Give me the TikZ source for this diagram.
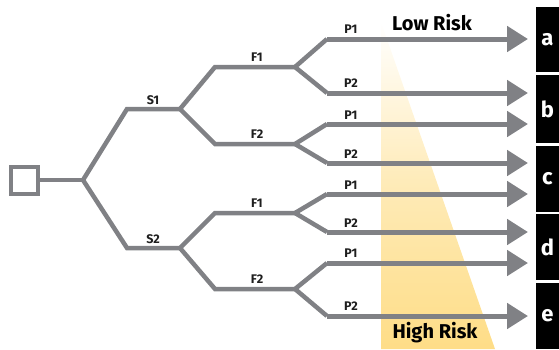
\documentclass[tikz,border=0pt]{standalone}
\usepackage{fontspec}
\setmainfont{Fira Sans}
\usetikzlibrary{arrows.meta}
\definecolor{treegray}{RGB}{128,129,133}
\definecolor{riskyellow}{RGB}{254,221,135}
\definecolor{labeltxt}{RGB}{30,30,30}
\tikzset{
  branch/.style={draw=treegray,line width=4.5pt},
  outarrow/.style={draw=treegray,line width=5pt,-{Triangle[length=21pt,width=25pt]}},
  lbl/.style={font=\fontsize{12.5}{13}\selectfont\bfseries,text=labeltxt,inner sep=0pt},
  risk/.style={font=\fontsize{20}{22}\selectfont\bfseries,text=black,inner sep=0pt},
  outbox/.style={fill=black,inner sep=0pt,minimum width=23pt,text=white,font=\fontsize{22}{24}\selectfont\bfseries},
  rootbox/.style={draw=treegray,line width=4pt,minimum size=27pt,inner sep=0pt}
}
\begin{document}
\begin{tikzpicture}[x=1pt,y=-1pt]
\useasboundingbox (0,0) rectangle (559,349);
% risk gradient wedge
\shade[top color=white,bottom color=riskyellow,middle color=riskyellow!60]
  (381,22) -- (381,349) -- (495,349) -- cycle;
% root
\node[rootbox] (root) at (24,180) {};
\coordinate (j0) at (83,180);
\coordinate (s1a) at (127,109); \coordinate (s1) at (180,109);
\coordinate (s2a) at (127,248); \coordinate (s2) at (180,248);
\coordinate (f11a) at (215,67);  \coordinate (f11) at (295,67);
\coordinate (f12a) at (215,144); \coordinate (f12) at (295,144);
\coordinate (f21a) at (215,213); \coordinate (f21) at (295,213);
\coordinate (f22a) at (215,289); \coordinate (f22) at (295,289);
\foreach \n/\y in {1/39,2/93,3/124,4/163,5/194,6/232,7/263,8/316}{
  \coordinate (p\n) at (327,\y);
  \coordinate (t\n) at (528,\y);
}
% tree
\draw[branch] (root.east) -- (j0);
\draw[branch] (s1) -- (s1a) -- (j0) -- (s2a) -- (s2);
\draw[branch] (f11) -- (f11a) -- (s1) -- (f12a) -- (f12);
\draw[branch] (f21) -- (f21a) -- (s2) -- (f22a) -- (f22);
\draw[branch] (p1) -- (f11) -- (p2);
\draw[branch] (p3) -- (f12) -- (p4);
\draw[branch] (p5) -- (f21) -- (p6);
\draw[branch] (p7) -- (f22) -- (p8);
\foreach \n in {1,...,8}{\draw[outarrow] (p\n) -- (t\n);}
% labels
\node[lbl] (ls1) at (153,100) {S1};
\node[lbl] (ls2) at (153,239) {S2};
\node[lbl] (lf11) at (257,57) {F1};
\node[lbl] (lf12) at (257,134) {F2};
\node[lbl] (lf21) at (257,203) {F1};
\node[lbl] (lf22) at (257,279) {F2};
\node[lbl] (lp1) at (351,29) {P1};
\node[lbl] (lp2) at (351,83) {P2};
\node[lbl] (lp3) at (351,115) {P1};
\node[lbl] (lp4) at (351,154) {P2};
\node[lbl] (lp5) at (351,185) {P1};
\node[lbl] (lp6) at (351,223) {P2};
\node[lbl] (lp7) at (351,253) {P1};
\node[lbl] (lp8) at (351,306) {P2};
\node[risk] (low) at (432,23) {Low Risk};
\node[risk] (high) at (435,333) {High Risk};
% outcome boxes
\node[outbox,minimum height=65pt] (a) at (547.5,39.5) {a};
\node[outbox,minimum height=68pt] (b) at (547.5,109) {b};
\node[outbox,minimum height=66pt] (c) at (547.5,179) {c};
\node[outbox,minimum height=66pt] (d) at (547.5,247) {d};
\node[outbox,minimum height=66pt] (e) at (547.5,316) {e};
\end{tikzpicture}
\end{document}
